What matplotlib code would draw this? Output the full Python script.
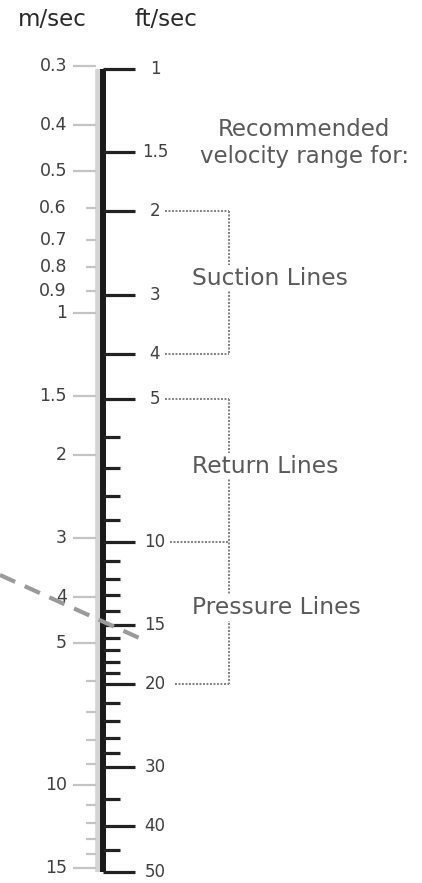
import matplotlib
matplotlib.use("Agg")
import matplotlib.pyplot as plt

# ft/sec side (right of the main axis)
ftMajor = [1, 1.5, 2, 3, 4, 5, 10, 15, 20, 30, 40, 50]
ftMinor = [6, 7, 8, 9, 11, 12, 13, 14, 16, 17, 18, 19, 22, 24, 26, 28, 35, 45]

# m/sec side (left of the main axis)
msLong = [0.3, 0.4, 0.5, 1, 1.5, 2, 3, 4, 5, 10, 15]
msShort = [0.6, 0.7, 0.8, 0.9, 6, 7, 8, 9, 11, 12, 13, 14]
msLabels = [0.3, 0.4, 0.5, 0.6, 0.7, 0.8, 0.9, 1, 1.5, 2, 3, 4, 5, 10, 15]
FT_PER_M = 3.281

# recommended ranges (ft/sec)
suction = [2, 4]
returnLines = [5, 10]
pressure = [10, 20]
rangeNames = ["Suction Lines", "Return Lines", "Pressure Lines"]
rangeLabelAt = [2.77, 6.92, 13.8]

# the dashed reading line coming in from the left
dashX = [0, 148]
dashV = [11.77, 16.31]


def fmt(v):
    return ("%g" % v)


fig = plt.figure(figsize=(4.22, 8.83), dpi=100)
ax = fig.add_axes([0, 0, 1, 1])
ax.set_xlim(0, 422)
ax.set_yscale("log")
ax.set_ylim(52.82, 0.7136)
ax.axis("off")

top, bottom = ftMajor[0], ftMajor[-1]

# shading + main black axis
ax.plot([97.5, 97.5], [top, bottom], color="#d4d4d4", lw=4, solid_capstyle="butt", zorder=1)
ax.plot([103, 103], [top, bottom], color="#1a1a1a", lw=4.3, solid_capstyle="butt", zorder=3)

# ft/sec ticks and labels
for v in ftMajor:
    ax.plot([103, 135], [v, v], color="#222222", lw=2.3, solid_capstyle="butt", zorder=3)
    ax.text(155, v, fmt(v), ha="center", va="center", fontsize=12, color="#404040")
for v in ftMinor:
    ax.plot([103, 120], [v, v], color="#222222", lw=2.3, solid_capstyle="butt", zorder=3)

# m/sec ticks and labels
for v in msLong:
    ax.plot([73, 96], [v * FT_PER_M] * 2, color="#c4c4c4", lw=1.6, solid_capstyle="butt", zorder=2)
for v in msShort:
    ax.plot([86, 96], [v * FT_PER_M] * 2, color="#c4c4c4", lw=1.6, solid_capstyle="butt", zorder=2)
for v in msLabels:
    ax.text(67, v * FT_PER_M, fmt(v), ha="right", va="center", fontsize=12.5, color="#404040")

# headers (placed in axes fraction)
ax.text(52 / 422, 1 - 20 / 883, "m/sec", transform=ax.transAxes, ha="center", va="center",
        fontsize=16.5, color="#2a2a2a")
ax.text(166 / 422, 1 - 20 / 883, "ft/sec", transform=ax.transAxes, ha="center", va="center",
        fontsize=16.5, color="#2a2a2a")

ax.text(304, 1.432, "Recommended\nvelocity range for:", ha="center", va="center",
        fontsize=16.5, color="#5a5a5a", linespacing=1.2)

# dotted brackets
dot = dict(color="#808080", lw=1.4, linestyle=(0, (1, 0.8)), zorder=2)
bx = 229
ax.plot([165, bx], [suction[0]] * 2, **dot)
ax.plot([165, bx], [suction[1]] * 2, **dot)
ax.plot([bx, bx], suction, **dot)
ax.plot([165, bx], [returnLines[0]] * 2, **dot)
ax.plot([170, bx], [pressure[0]] * 2, **dot)
ax.plot([175, bx], [pressure[1]] * 2, **dot)
ax.plot([bx, bx], [returnLines[0], pressure[1]], **dot)

for name, v in zip(rangeNames, rangeLabelAt):
    ax.text(192, v, name, ha="left", va="center", fontsize=16.8, color="#5a5a5a", zorder=4,
            bbox=dict(facecolor="white", edgecolor="none", pad=1))

# dashed line over the scale
ax.plot(dashX, dashV, color="#9a9a9a", lw=3, linestyle=(0, (4, 2.5)), zorder=5)

fig.savefig("out.png", dpi=100, facecolor="white")
